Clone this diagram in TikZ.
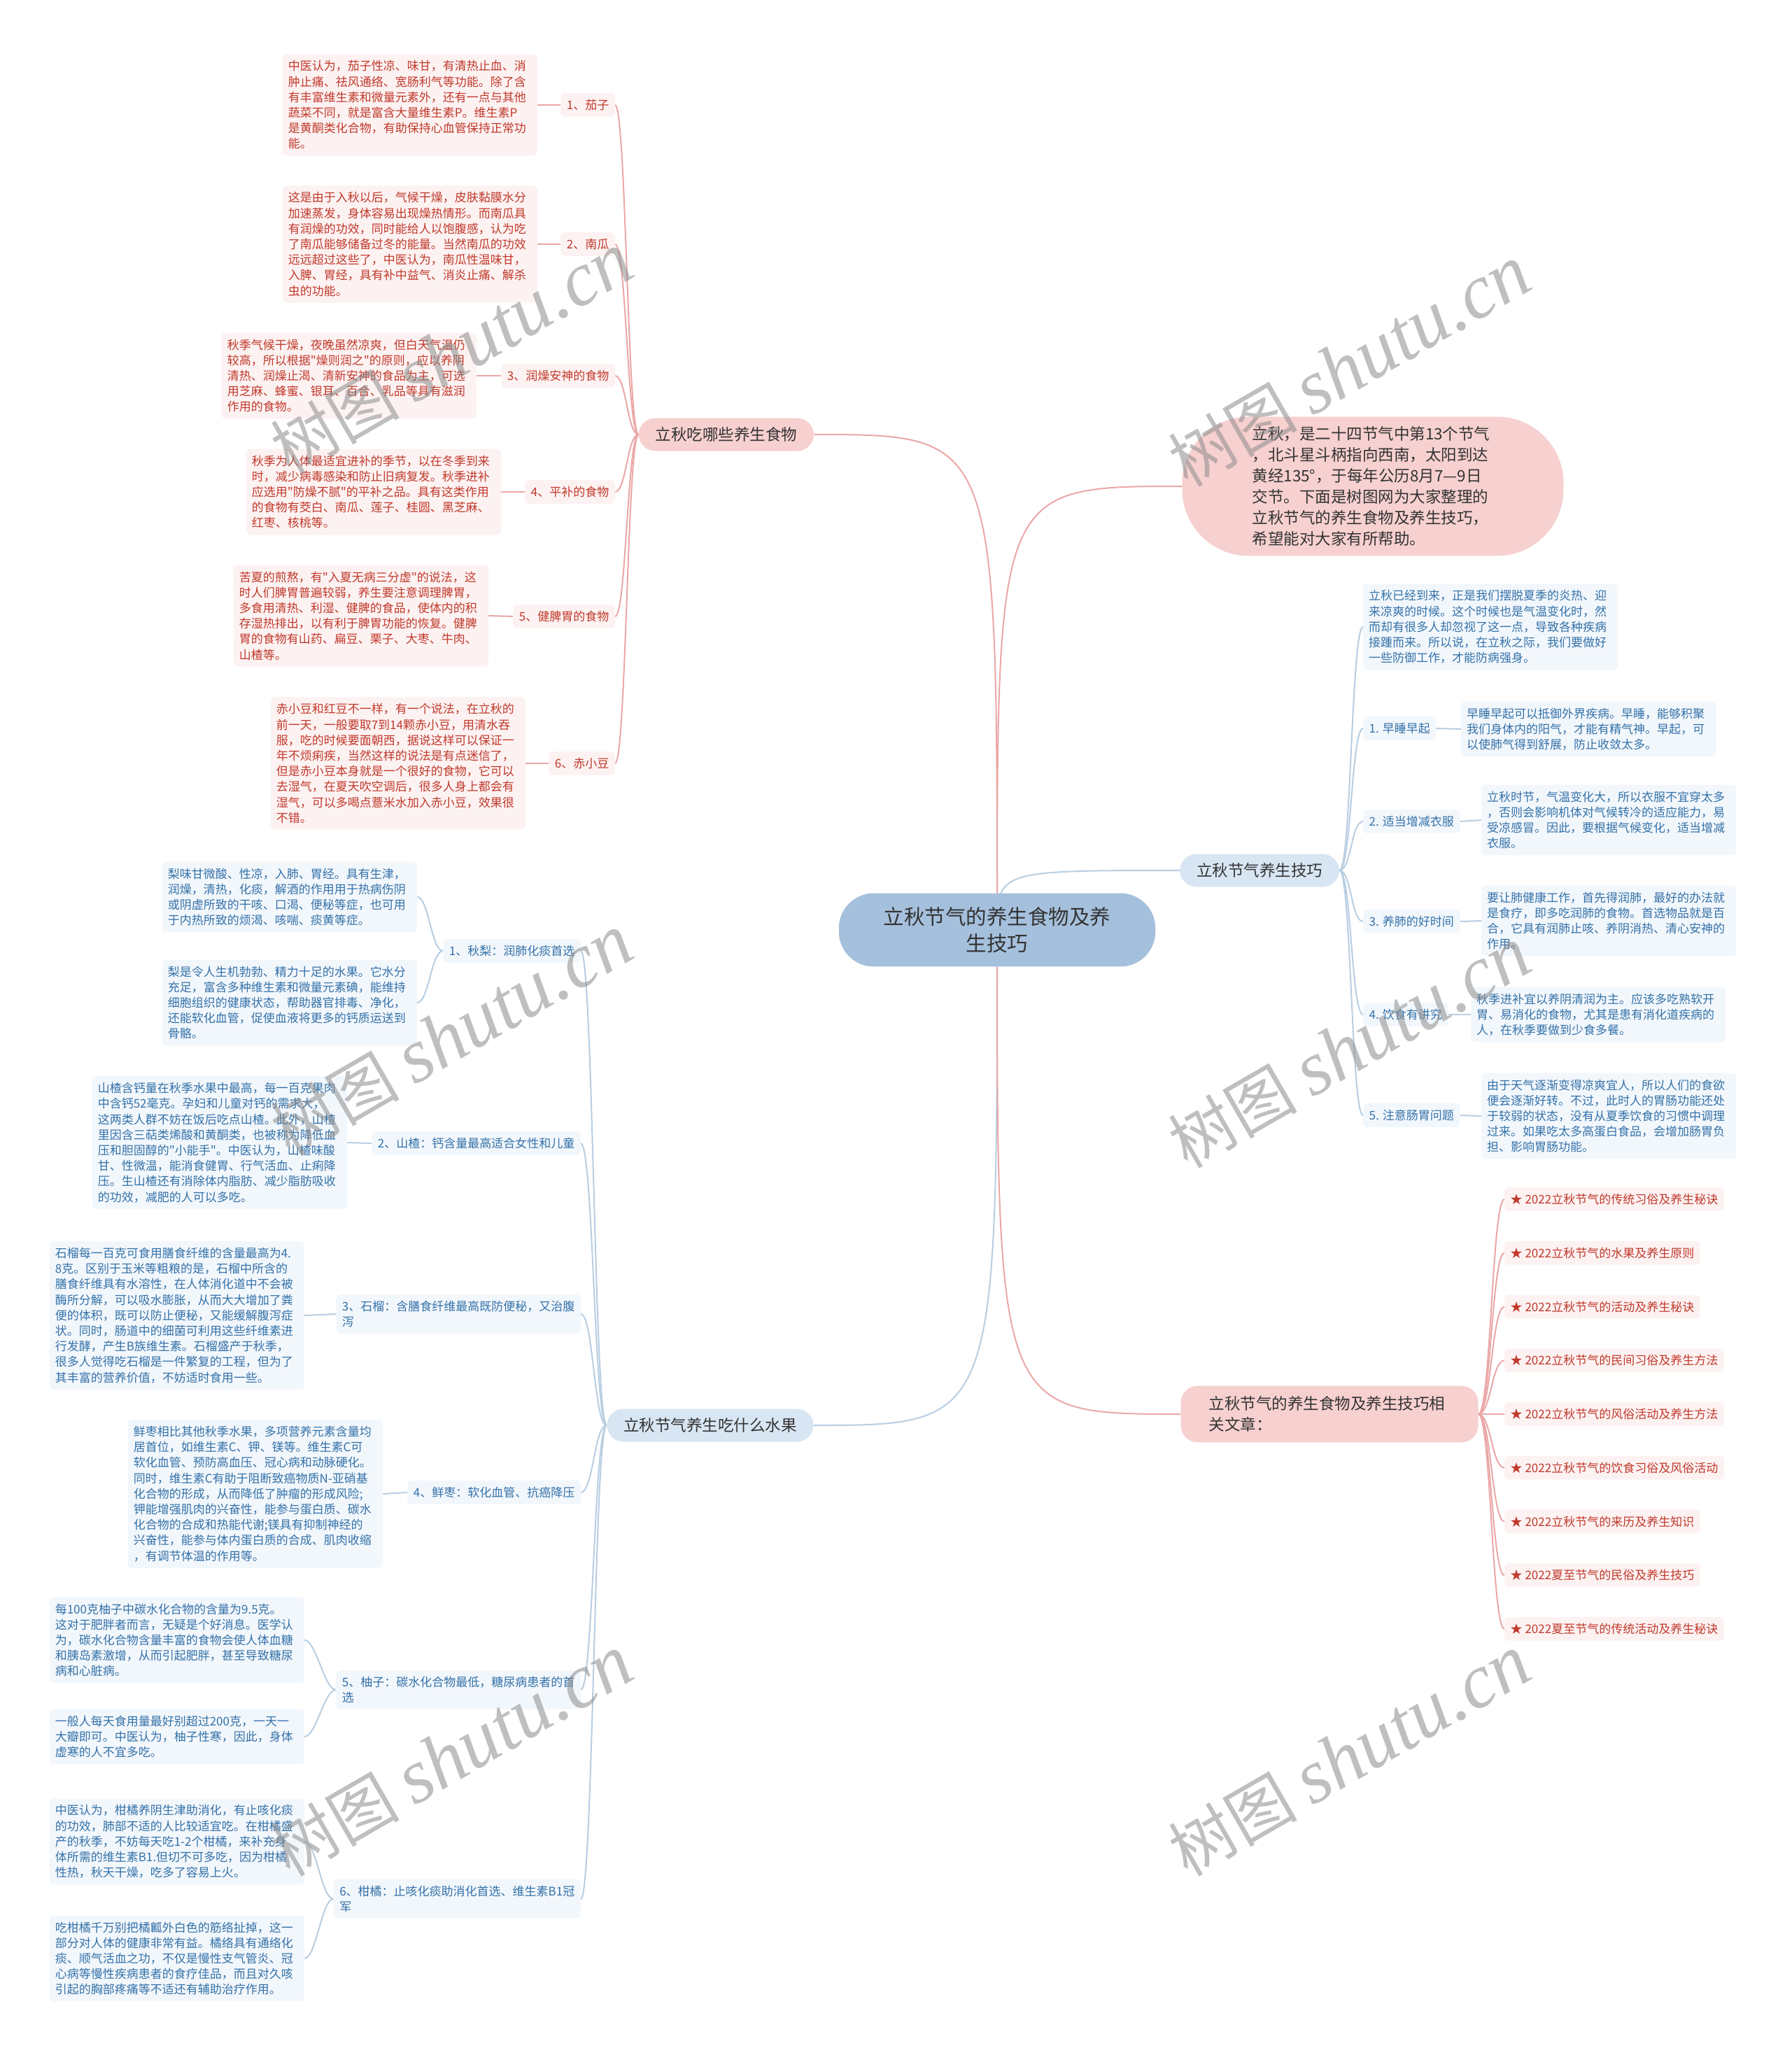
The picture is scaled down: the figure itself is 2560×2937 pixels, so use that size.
\documentclass[tikz,border=0pt]{standalone}
\usepackage{fontspec}
\setmainfont{Noto Sans CJK SC}[Ligatures=TeXOff]
\newfontfamily\wmlatin{Liberation Serif}
\usetikzlibrary{backgrounds}
\definecolor{TextRed}{HTML}{C0392B}
\definecolor{LeafRed}{HTML}{FDF2F2}
\definecolor{LineRed}{HTML}{EBA7A7}
\definecolor{TopicRed}{HTML}{F7D0D0}
\definecolor{TextBlue}{HTML}{3471A8}
\definecolor{LeafBlue}{HTML}{F2F7FC}
\definecolor{LineBlue}{HTML}{B8CEE2}
\definecolor{TopicBlue}{HTML}{D8E6F3}
\definecolor{RootBlue}{HTML}{A5C0DC}
\definecolor{TopicText}{HTML}{333333}

\begin{document}
\begin{tikzpicture}[x=1pt, y=-1pt,
    leafR/.style={fill=LeafRed, text=TextRed, rounded corners=6pt, align=left, text width=348pt,
      inner xsep=8pt, inner ysep=9pt, font=\fontsize{17}{22.2}\selectfont},
    leafB/.style={leafR, fill=LeafBlue, text=TextBlue},
    tagR/.style={fill=LeafRed, text=TextRed, rounded corners=6pt, align=left,
      inner xsep=8.5pt, inner ysep=9pt, font=\fontsize{17}{22.2}\selectfont},
    tagB/.style={tagR, fill=LeafBlue, text=TextBlue},
    topic/.style={rounded corners=24pt, inner xsep=24pt, inner ysep=13pt, text=TopicText,
      font=\fontsize{22.5}{30}\selectfont},
    rootnode/.style={fill=RootBlue, text=TopicText, rounded corners=50pt, align=center,
      inner xsep=64pt, inner ysep=20pt, font=\fontsize{29.5}{37.5}\selectfont},
    linkR/.style={draw=LineRed, line width=2pt},
    linkB/.style={draw=LineBlue, line width=2pt},
    wmark/.style={text=black!45, text opacity=0.55, rotate=30, font=\fontsize{92}{92}\selectfont}]

    \useasboundingbox (0,0) rectangle (2560,2937);

    % Root
    \node[rootnode] (root) at (1425,1329) {立秋节气的养生食物及养\\生技巧};

    % Main topics
    \node[topic, fill=TopicRed] (food) at (1038,621) {立秋吃哪些养生食物};
    \node[topic, fill=TopicRed, rounded corners=95pt, text width=345pt, align=left,
      inner xsep=100pt, inner ysep=14pt] (intro) at (1962,695)
      {立秋，是二十四节气中第13个节气\\，北斗星斗柄指向西南，太阳到达\\黄经135°，于每年公历8月7—9日\\交节。下面是树图网为大家整理的\\立秋节气的养生食物及养生技巧，\\希望能对大家有所帮助。};
    \node[topic, fill=TopicBlue] (tips) at (1800,1244) {立秋节气养生技巧};
    \node[topic, fill=TopicBlue] (fruit) at (1015,2037) {立秋节气养生吃什么水果};
    \node[topic, fill=TopicRed, text width=345pt, align=left, inner xsep=40pt, inner ysep=15pt]
      (links) at (1900,2021) {立秋节气的养生食物及养生技巧相\\关文章：};

    % Food: labels
    \node[tagR, anchor=east] (qz) at (879,150) {1、茄子};
    \node[tagR, anchor=east] (ng) at (879,349) {2、南瓜};
    \node[tagR, anchor=east] (rz) at (879,537) {3、润燥安神的食物};
    \node[tagR, anchor=east] (pb) at (879,703) {4、平补的食物};
    \node[tagR, anchor=east] (jp) at (879,881) {5、健脾胃的食物};
    \node[tagR, anchor=east] (cx) at (879,1091) {6、赤小豆};

    % Food: texts
    \node[leafR, anchor=east] (qzText) at (768,150)
      {中医认为，茄子性凉、味甘，有清热止血、消\\肿止痛、祛风通络、宽肠利气等功能。除了含\\有丰富维生素和微量元素外，还有一点与其他\\蔬菜不同，就是富含大量维生素P。维生素P\\是黄酮类化合物，有助保持心血管保持正常功\\能。};
    \node[leafR, anchor=east] (ngText) at (768,349)
      {这是由于入秋以后，气候干燥，皮肤黏膜水分\\加速蒸发，身体容易出现燥热情形。而南瓜具\\有润燥的功效，同时能给人以饱腹感，认为吃\\了南瓜能够储备过冬的能量。当然南瓜的功效\\远远超过这些了，中医认为，南瓜性温味甘，\\入脾、胃经，具有补中益气、消炎止痛、解杀\\虫的功能。};
    \node[leafR, anchor=east] (rzText) at (681,537)
      {秋季气候干燥，夜晚虽然凉爽，但白天气温仍\\较高，所以根据"燥则润之"的原则，应以养阴\\清热、润燥止渴、清新安神的食品为主，可选\\用芝麻、蜂蜜、银耳、百合、乳品等具有滋润\\作用的食物。};
    \node[leafR, anchor=east] (pbText) at (716,703)
      {秋季为人体最适宜进补的季节，以在冬季到来\\时，减少病毒感染和防止旧病复发。秋季进补\\应选用"防燥不腻"的平补之品。具有这类作用\\的食物有茭白、南瓜、莲子、桂圆、黑芝麻、\\红枣、核桃等。};
    \node[leafR, anchor=east] (jpText) at (698,880)
      {苦夏的煎熬，有"入夏无病三分虚"的说法，这\\时人们脾胃普遍较弱，养生要注意调理脾胃，\\多食用清热、利湿、健脾的食品，使体内的积\\存湿热排出，以有利于脾胃功能的恢复。健脾\\胃的食物有山药、扁豆、栗子、大枣、牛肉、\\山楂等。};
    \node[leafR, anchor=east] (cxText) at (751,1091)
      {赤小豆和红豆不一样，有一个说法，在立秋的\\前一天，一般要取7到14颗赤小豆，用清水吞\\服，吃的时候要面朝西，据说这样可以保证一\\年不烦痢疾，当然这样的说法是有点迷信了，\\但是赤小豆本身就是一个很好的食物，它可以\\去湿气，在夏天吹空调后，很多人身上都会有\\湿气，可以多喝点薏米水加入赤小豆，效果很\\不错。};

    % Fruit: labels
    \node[tagB, anchor=east] (ql) at (830,1359) {1、秋梨：润肺化痰首选};
    \node[tagB, anchor=east] (sz) at (830,1634) {2、山楂：钙含量最高适合女性和儿童};
    \node[tagB, anchor=east] (sl) at (830,1878) {3、石榴：含膳食纤维最高既防便秘，又治腹\\泻};
    \node[tagB, anchor=east] (xz) at (830,2133) {4、鲜枣：软化血管、抗癌降压};
    \node[tagB, anchor=east] (yz) at (830,2415) {5、柚子：碳水化合物最低，糖尿病患者的首\\选};
    \node[tagB, anchor=east] (gj) at (830,2714) {6、柑橘：止咳化痰助消化首选、维生素B1冠\\军};

    % Fruit: texts
    \node[leafB, anchor=east] (qlA) at (596,1282)
      {梨味甘微酸、性凉，入肺、胃经。具有生津，\\润燥，清热，化痰，解酒的作用用于热病伤阴\\或阴虚所致的干咳、口渴、便秘等症，也可用\\于内热所致的烦渴、咳喘、痰黄等症。};
    \node[leafB, anchor=east] (qlB) at (596,1433)
      {梨是令人生机勃勃、精力十足的水果。它水分\\充足，富含多种维生素和微量元素碘，能维持\\细胞组织的健康状态，帮助器官排毒、净化，\\还能软化血管，促使血液将更多的钙质运送到\\骨骼。};
    \node[leafB, anchor=east] (szText) at (496,1633)
      {山楂含钙量在秋季水果中最高，每一百克果肉\\中含钙52毫克。孕妇和儿童对钙的需求大，\\这两类人群不妨在饭后吃点山楂。此外，山楂\\里因含三萜类烯酸和黄酮类，也被称为降低血\\压和胆固醇的"小能手"。中医认为，山楂味酸\\甘、性微温，能消食健胃、行气活血、止痢降\\压。生山楂还有消除体内脂肪、减少脂肪吸收\\的功效，减肥的人可以多吃。};
    \node[leafB, anchor=east] (slText) at (435,1880)
      {石榴每一百克可食用膳食纤维的含量最高为4.\\8克。区别于玉米等粗粮的是，石榴中所含的\\膳食纤维具有水溶性，在人体消化道中不会被\\酶所分解，可以吸水膨胀，从而大大增加了粪\\便的体积，既可以防止便秘，又能缓解腹泻症\\状。同时，肠道中的细菌可利用这些纤维素进\\行发酵，产生B族维生素。石榴盛产于秋季，\\很多人觉得吃石榴是一件繁复的工程，但为了\\其丰富的营养价值，不妨适时食用一些。};
    \node[leafB, anchor=east] (xzText) at (547,2135)
      {鲜枣相比其他秋季水果，多项营养元素含量均\\居首位，如维生素C、钾、镁等。维生素C可\\软化血管、预防高血压、冠心病和动脉硬化。\\同时，维生素C有助于阻断致癌物质N-亚硝基\\化合物的形成，从而降低了肿瘤的形成风险;\\钾能增强肌肉的兴奋性，能参与蛋白质、碳水\\化合物的合成和热能代谢;镁具有抑制神经的\\兴奋性，能参与体内蛋白质的合成、肌肉收缩\\，有调节体温的作用等。};
    \node[leafB, anchor=east] (yzA) at (435,2344)
      {每100克柚子中碳水化合物的含量为9.5克。\\这对于肥胖者而言，无疑是个好消息。医学认\\为，碳水化合物含量丰富的食物会使人体血糖\\和胰岛素激增，从而引起肥胖，甚至导致糖尿\\病和心脏病。};
    \node[leafB, anchor=east] (yzB) at (435,2482)
      {一般人每天食用量最好别超过200克，一天一\\大瓣即可。中医认为，柚子性寒，因此，身体\\虚寒的人不宜多吃。};
    \node[leafB, anchor=east] (gjA) at (435,2632)
      {中医认为，柑橘养阴生津助消化，有止咳化痰\\的功效，肺部不适的人比较适宜吃。在柑橘盛\\产的秋季，不妨每天吃1-2个柑橘，来补充身\\体所需的维生素B1.但切不可多吃，因为柑橘\\性热，秋天干燥，吃多了容易上火。};
    \node[leafB, anchor=east] (gjB) at (435,2799)
      {吃柑橘千万别把橘瓤外白色的筋络扯掉，这一\\部分对人体的健康非常有益。橘络具有通络化\\痰、顺气活血之功，不仅是慢性支气管炎、冠\\心病等慢性疾病患者的食疗佳品，而且对久咳\\引起的胸部疼痛等不适还有辅助治疗作用。};

    % Tips
    \node[leafB, anchor=west] (tipIntro) at (1948,896)
      {立秋已经到来，正是我们摆脱夏季的炎热、迎\\来凉爽的时候。这个时候也是气温变化时，然\\而却有很多人却忽视了这一点，导致各种疾病\\接踵而来。所以说，在立秋之际，我们要做好\\一些防御工作，才能防病强身。};
    \node[tagB, anchor=west] (t1) at (1948,1041) {1. 早睡早起};
    \node[tagB, anchor=west] (t2) at (1948,1174) {2. 适当增减衣服};
    \node[tagB, anchor=west] (t3) at (1948,1317) {3. 养肺的好时间};
    \node[tagB, anchor=west] (t4) at (1948,1450) {4. 饮食有讲究};
    \node[tagB, anchor=west] (t5) at (1948,1594) {5. 注意肠胃问题};
    \node[leafB, anchor=west] (t1Text) at (2088,1042)
      {早睡早起可以抵御外界疾病。早睡，能够积聚\\我们身体内的阳气，才能有精气神。早起，可\\以使肺气得到舒展，防止收敛太多。};
    \node[leafB, anchor=west] (t2Text) at (2117,1172)
      {立秋时节，气温变化大，所以衣服不宜穿太多\\，否则会影响机体对气候转冷的适应能力，易\\受凉感冒。因此，要根据气候变化，适当增减\\衣服。};
    \node[leafB, anchor=west] (t3Text) at (2117,1316)
      {要让肺健康工作，首先得润肺，最好的办法就\\是食疗，即多吃润肺的食物。首选物品就是百\\合，它具有润肺止咳、养阴消热、清心安神的\\作用。};
    \node[leafB, anchor=west] (t4Text) at (2102,1450)
      {秋季进补宜以养阴清润为主。应该多吃熟软开\\胃、易消化的食物，尤其是患有消化道疾病的\\人，在秋季要做到少食多餐。};
    \node[leafB, anchor=west] (t5Text) at (2117,1595)
      {由于天气逐渐变得凉爽宜人，所以人们的食欲\\便会逐渐好转。不过，此时人的胃肠功能还处\\于较弱的状态，没有从夏季饮食的习惯中调理\\过来。如果吃太多高蛋白食品，会增加肠胃负\\担、影响胃肠功能。};

    % Related articles
    \foreach \t [count=\i] in {2022立秋节气的传统习俗及养生秘诀, 2022立秋节气的水果及养生原则,
        2022立秋节气的活动及养生秘诀, 2022立秋节气的民间习俗及养生方法,
        2022立秋节气的风俗活动及养生方法, 2022立秋节气的饮食习俗及风俗活动,
        2022立秋节气的来历及养生知识, 2022夏至节气的民俗及养生技巧,
        2022夏至节气的传统活动及养生秘诀}
      \node[tagR, anchor=west] (art\i) at (2150,{1714+76.75*(\i-1)}) {★ \t};

    % Connectors
    \begin{scope}[on background layer]
      \fill[white] (0,0) rectangle (2560,2937);
      \draw[linkR] (root.center) .. controls (root.center |- food.east) .. (food.east);
      \draw[linkR] (root.center) .. controls (root.center |- intro.west) .. (intro.west);
      \draw[linkB] (root.center) .. controls (root.center |- tips.west) .. (tips.west);
      \draw[linkB] (root.center) .. controls (root.center |- fruit.east) .. (fruit.east);
      \draw[linkR] (root.center) .. controls (root.center |- links.west) .. (links.west);
      \foreach \n in {qz,ng,rz,pb,jp,cx} {
        \draw[linkR] (food.west) .. controls +(-16,0) and +(16,0) .. (\n.east);
        \draw[linkR] (\n.west) -- (\n Text.east);
      }
      \foreach \n in {ql,sz,sl,xz,yz,gj}
        \draw[linkB] (fruit.west) .. controls +(-18,0) and +(18,0) .. (\n.east);
      \foreach \n in {sz,sl,xz}
        \draw[linkB] (\n.west) -- (\n Text.east);
      \foreach \n in {ql,yz,gj} {
        \draw[linkB] (\n.west) .. controls +(-17,0) and +(17,0) .. (\n A.east);
        \draw[linkB] (\n.west) .. controls +(-17,0) and +(17,0) .. (\n B.east);
      }
      \foreach \n in {tipIntro,t1,t2,t3,t4,t5}
        \draw[linkB] (tips.east) .. controls +(17,0) and +(-17,0) .. (\n.west);
      \foreach \n in {t1,t2,t3,t4,t5}
        \draw[linkB] (\n.east) -- (\n Text.west);
      \foreach \i in {1,...,9}
        \draw[linkR] (links.east) .. controls +(18,0) and +(-18,0) .. (art\i.west);
    \end{scope}

    % Watermarks
    \foreach \p [count=\k] in {(646,506), (1929,524), (646,1480), (1929,1498), (646,2510), (1929,2510)}
      \node[wmark] (wm\k) at \p {树图 {\wmlatin\itshape\fontsize{110}{110}\selectfont shutu.cn}};
\end{tikzpicture}
\end{document}
